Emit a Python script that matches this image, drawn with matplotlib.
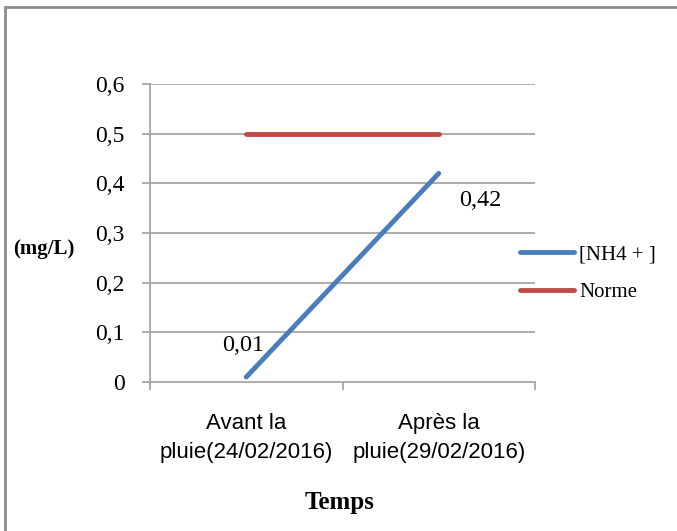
import matplotlib
matplotlib.use("Agg")
import matplotlib.pyplot as plt
from matplotlib.patches import Rectangle

categories = ["Avant la\npluie(24/02/2016)", "Après la\npluie(29/02/2016)"]
nh4 = [0.01, 0.42]
norme = [0.5, 0.5]
yticks = [0, 0.1, 0.2, 0.3, 0.4, 0.5, 0.6]
ytick_labels = ["0", "0,1", "0,2", "0,3", "0,4", "0,5", "0,6"]
point_labels = ["0,01", "0,42"]

W, H = 677, 531
fig = plt.figure(figsize=(W / 100, H / 100), dpi=100)
serif = "Liberation Serif"
sans = "Liberation Sans"
grid_c = "#a6a6a6"

# outer frame
fig.patches.append(Rectangle((5.5 / W, -0.1), 1.2, 1 - 7 / H + 0.1, transform=fig.transFigure,
                             fill=False, edgecolor="#8c8c8c", linewidth=2))

ax = fig.add_axes([150 / W, 1 - 382 / H, (535 - 150) / W, (382 - 84) / H])
x = list(range(len(categories)))
ax.set_xlim(-0.5, len(categories) - 0.5)
ax.set_ylim(0, 0.6)

for y in yticks[1:]:
    ax.axhline(y, color=grid_c, linewidth=1.3, zorder=1)

l1, = ax.plot(x, nh4, color="#4a7ebb", linewidth=3.5, solid_capstyle="round", zorder=3, label="[NH4 + ]")
l2, = ax.plot(x, norme, color="#be4b48", linewidth=3.5, solid_capstyle="round", zorder=3, label="Norme")

ax.annotate(point_labels[0], (x[0], nh4[0]), xytext=(-3, 32), textcoords="offset pixels",
            fontsize=17.5, family=serif, ha="center", va="center")
ax.annotate(point_labels[1], (x[1], nh4[1]), xytext=(42, -27), textcoords="offset pixels",
            fontsize=17.5, family=serif, ha="center", va="center")

for s in ["top", "right"]:
    ax.spines[s].set_visible(False)
for s in ["left", "bottom"]:
    ax.spines[s].set_color(grid_c)
    ax.spines[s].set_linewidth(1.3)

ax.set_yticks(yticks)
ax.set_yticklabels(ytick_labels, fontsize=17, family=serif)
ax.tick_params(axis="y", direction="out", length=6, color=grid_c, width=1.3, pad=12)

ax.set_xticks(x)
ax.set_xticklabels(categories, fontsize=16, family=sans, linespacing=1.5)
ax.tick_params(axis="x", which="major", length=0, pad=22)
ax.set_xticks([-0.5, 0.5, 1.5], minor=True)
ax.tick_params(axis="x", which="minor", direction="out", length=6, color=grid_c, width=1.3)

fig.text(340 / W, 1 - 502 / H, "Temps", fontsize=18, fontweight="bold", family=serif, ha="center", va="center")
fig.text(44 / W, 1 - 249 / H, "(mg/L)", fontsize=15, fontweight="bold", family=serif, ha="center", va="center")

leg = fig.legend(handles=[l1, l2], loc="upper left", bbox_to_anchor=(520 / W, 1 - 245 / H),
                 frameon=False, prop={"family": serif, "size": 15}, handlelength=2.6,
                 handletextpad=0.25, labelspacing=0.85, borderaxespad=0, borderpad=0)

fig.savefig("out.png", dpi=100)
